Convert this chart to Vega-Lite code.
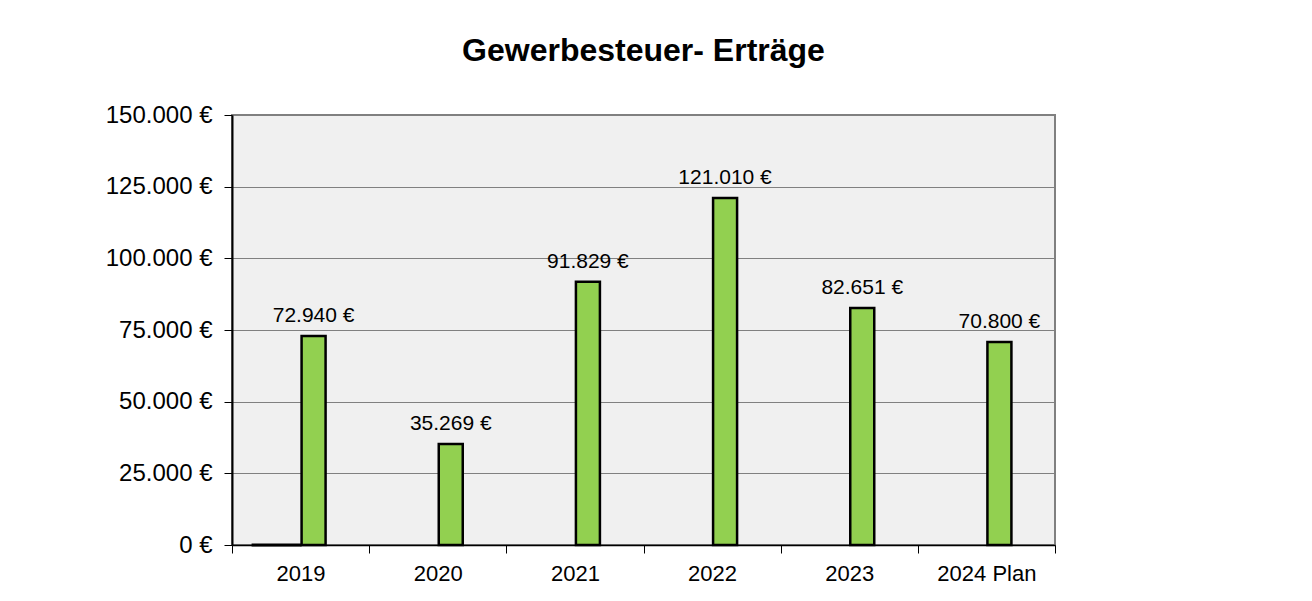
{
  "$schema": "https://vega.github.io/schema/vega-lite/v6.json",
  "width": 823,
  "height": 430,
  "autosize": {"type": "none"},
  "padding": {"left": 232, "top": 115, "right": 257, "bottom": 56},
  "background": "white",
  "title": {
    "text": "Gewerbesteuer- Erträge",
    "font": "Liberation Sans",
    "fontSize": 32,
    "fontWeight": "bold",
    "color": "black",
    "anchor": "middle",
    "baseline": "alphabetic",
    "offset": 10
  },
  "data": {
    "values": [
      {"jahr": "2019", "wert": 72940, "basis": 0},
      {"jahr": "2020", "wert": 35269, "basis": null},
      {"jahr": "2021", "wert": 91829, "basis": null},
      {"jahr": "2022", "wert": 121010, "basis": null},
      {"jahr": "2023", "wert": 82651, "basis": null},
      {"jahr": "2024 Plan", "wert": 70800, "basis": null}
    ]
  },
  "encoding": {
    "x": {
      "field": "jahr",
      "type": "nominal",
      "sort": null,
      "scale": {"paddingInner": 0, "paddingOuter": 0},
      "axis": {
        "title": null,
        "labelAngle": 0,
        "labelFont": "Liberation Sans",
        "labelFontSize": 22,
        "labelColor": "black",
        "labelPadding": 10,
        "domainColor": "black",
        "domainWidth": 1.5,
        "tickColor": "black",
        "tickSize": 8,
        "tickBand": "extent",
        "grid": false
      }
    }
  },
  "layer": [
    {
      "mark": {"type": "bar", "width": 24, "xOffset": 13, "fill": "#92d050", "stroke": "black", "strokeWidth": 2.5},
      "encoding": {
        "y": {
          "field": "wert",
          "type": "quantitative",
          "scale": {"domain": [0, 150000], "nice": false},
          "axis": {
            "title": null,
            "values": [0, 25000, 50000, 75000, 100000, 125000, 150000],
            "format": "$,.0f",
            "labelFont": "Liberation Sans",
            "labelFontSize": 24,
            "labelColor": "black",
            "labelPadding": 12,
            "domainColor": "black",
            "domainWidth": 2,
            "tickColor": "black",
            "tickSize": 8,
            "grid": true,
            "gridColor": "#808080",
            "gridWidth": 1
          }
        }
      }
    },
    {
      "mark": {"type": "text", "xOffset": 13, "dy": -14, "baseline": "alphabetic", "font": "Liberation Sans", "fontSize": 21, "color": "black"},
      "encoding": {
        "y": {"field": "wert", "type": "quantitative"},
        "text": {"field": "wert", "type": "quantitative", "format": "$,.0f"}
      }
    },
    {
      "mark": {"type": "bar", "width": 50, "xOffset": -24, "fill": "black", "stroke": "black", "strokeWidth": 3},
      "encoding": {
        "y": {"field": "basis", "type": "quantitative"}
      }
    }
  ],
  "config": {
    "locale": {
      "number": {"decimal": ",", "thousands": ".", "grouping": [3], "currency": ["", " €"]}
    },
    "view": {"fill": "#f0f0f0", "stroke": "#808080", "strokeWidth": 2}
  }
}
